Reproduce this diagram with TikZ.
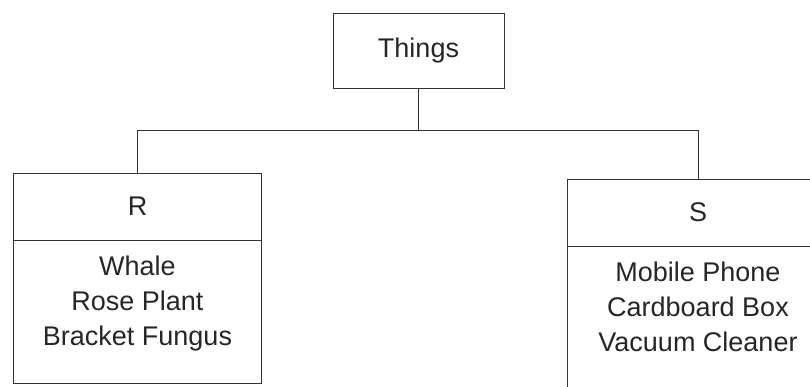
\documentclass[tikz,border=0pt]{standalone}
\usepackage{fontspec}
\setmainfont{Liberation Sans}
\begin{document}
\begin{tikzpicture}[x=1pt,y=-1pt,
  box/.style={draw=black!80, line width=0.9pt, rectangle, inner sep=0pt},
  txt/.style={font=\fontsize{27}{35}\selectfont, text=black!85},
  link/.style={draw=black!80, line width=0.9pt}]
\useasboundingbox (0,0) rectangle (810,387);
\fill[white] (0,0) rectangle (810,387);
\begin{scope}
\clip (0,0) rectangle (810,387);
% root
\node[box, txt, minimum width=171pt, minimum height=75pt] (things) at (418.5,50.5) {Things};
% R class
\node[box, txt, minimum width=248pt, minimum height=67pt] (rhead) at (137.5,206.5) {R};
\node[box, minimum width=248pt, minimum height=143pt, anchor=north] (rbody) at (rhead.south) {};
\node[txt, align=center, anchor=north, inner sep=0pt] (rlist) at ([yshift=-15pt]rbody.north) {Whale\\Rose Plant\\Bracket Fungus};
% S class
\node[box, txt, minimum width=262pt, minimum height=67pt] (shead) at (698,212.5) {S};
\node[box, minimum width=262pt, minimum height=145pt, anchor=north] (sbody) at (shead.south) {};
\node[txt, align=center, anchor=north, inner sep=0pt] (slist) at ([yshift=-15pt]sbody.north) {Mobile Phone\\Cardboard Box\\Vacuum Cleaner};
% connectors
\draw[link] (things.south) -- ++(0,42) coordinate (j);
\draw[link] (j) -| (rhead.north);
\draw[link] (j) -| (shead.north);
\end{scope}
\end{tikzpicture}
\end{document}
